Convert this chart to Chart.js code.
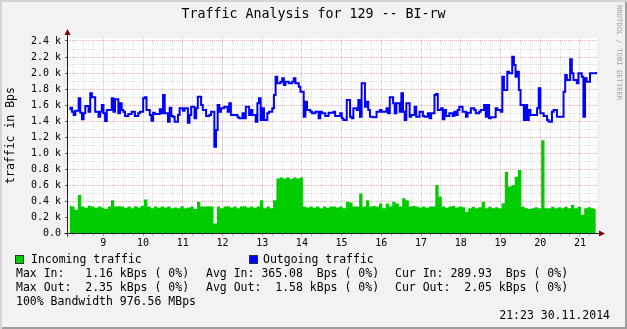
<!DOCTYPE html>
<html lang="en">
<head>
  <meta charset="UTF-8" />
  <title>Traffic Analysis for 129 -- BI-rw</title>
  <script src="https://cdn.jsdelivr.net/npm/chart.js"></script>
  <style>
    body {
      margin: 0;
      background: #f2f2f2;
    }
    .graph {
      position: relative;
      width: 627px;
      height: 329px;
      background: #f2f2f2;
      box-shadow: inset 2px 2px 0 #d4d4d4, inset -2px -2px 0 #9e9e9e;
      overflow: hidden;
      font-family: 'DejaVu Sans Mono', monospace;
      color: #000;
    }
    .graph canvas { position: absolute; left: 0; top: 0; }
    .t {
      position: absolute;
      white-space: pre;
      font-size: 11.5px;
      line-height: 14px;
    }
    .title {
      position: absolute;
      left: 0; top: 6px; width: 627px;
      text-align: center;
      font-size: 13.3px;
      line-height: 16px;
    }
    .mark {
      position: absolute;
      left: 615px; top: 5px;
      writing-mode: vertical-rl;
      font-size: 7.2px;
      line-height: 8px;
      color: #a4a4a4;
    }
    .swatch {
      position: absolute;
      width: 7px; height: 7px;
      border: 1px solid #303030;
    }
  </style>
</head>
<body>

<div class="graph">
  <canvas id="traffic" width="627" height="329"></canvas>
  <div class="title">Traffic Analysis for 129 -- BI-rw</div>
  <div class="mark">RRDTOOL / TOBI OETIKER</div>

  <!-- legend -->
  <span class="swatch" style="left:15px; top:255px; background:#00cc00"></span>
  <span class="t" style="left:31px; top:252px">Incoming traffic</span>
  <span class="swatch" style="left:249px; top:255px; background:#0000ff"></span>
  <span class="t" style="left:263px; top:252px">Outgoing traffic</span>

  <span class="t" style="left:16px; top:266px">Max In:   1.16 kBps ( 0%)</span>
  <span class="t" style="left:206px; top:266px">Avg In: 365.08  Bps ( 0%)</span>
  <span class="t" style="left:395px; top:266px">Cur In: 289.93  Bps ( 0%)</span>
  <span class="t" style="left:16px; top:280px">Max Out:  2.35 kBps ( 0%)</span>
  <span class="t" style="left:206px; top:280px">Avg Out:  1.58 kBps ( 0%)</span>
  <span class="t" style="left:395px; top:280px">Cur Out:  2.05 kBps ( 0%)</span>
  <span class="t" style="left:16px; top:294px">100% Bandwidth 976.56 MBps</span>
  <span class="t" style="right:17px; top:308px">21:23 30.11.2014</span>
</div>

<script>
  // time in decimal hours; first sample 08:09
  const startHour = 8.15;
  const inStep = 5 / 60;     // incoming read every 5 min
  const outStep = 2.5 / 60;  // outgoing read every 2.5 min
  const axisStart = 8.086;
  const axisEnd = 21.43;

  // Incoming traffic (Bps)
  const incoming = [
    340, 330, 290, 475, 330, 315, 340, 330, 315, 330,
    320, 300, 330, 410, 330, 335, 330, 315, 330, 310,
    335, 320, 340, 420, 330, 310, 330, 315, 330, 320,
    330, 310, 320, 310, 335, 310, 320, 330, 300, 390,
    330, 330, 335, 330, 120, 330, 310, 330, 335, 320,
    330, 310, 330, 335, 320, 330, 315, 330, 410, 310,
    330, 310, 410, 680, 695, 680, 695, 675, 695, 680,
    695, 330, 320, 330, 315, 330, 310, 330, 315, 330,
    330, 320, 330, 310, 390, 380, 330, 330, 495, 330,
    410, 330, 337, 330, 370, 308, 370, 330, 390, 370,
    330, 433, 410, 330, 337, 330, 320, 330, 317, 330,
    330, 600, 454, 330, 317, 330, 337, 320, 330,
    321, 267, 308, 329, 308, 321, 392, 308, 329, 308,
    321, 308, 371, 767, 580, 600, 704, 787, 329, 308,
    300, 308, 321, 308, 1160, 308, 308, 329, 308, 321,
    308, 329, 308, 354, 308, 329, 229, 308, 321, 308, 300
  ];

  // Outgoing traffic (Bps)
  const outgoing = [
    1546, 1567, 1517, 1475, 1529, 1529, 1683, 1504, 1421, 1496,
    1588, 1588, 1517, 1746, 1696, 1696, 1517, 1517, 1454, 1517,
    1600, 1496, 1400, 1538, 1538, 1538, 1683, 1517, 1671, 1671,
    1496, 1621, 1538, 1517, 1463, 1463, 1488, 1488, 1517, 1517,
    1463, 1463, 1496, 1517, 1517, 1683, 1696, 1538, 1538, 1475,
    1404, 1504, 1488, 1488, 1488, 1546, 1496, 1725, 1496, 1496,
    1392, 1567, 1463, 1454, 1392, 1392, 1475, 1558, 1558, 1529,
    1558, 1558, 1379, 1475, 1579, 1579, 1433, 1558, 1704, 1704,
    1600, 1538, 1538, 1463, 1463, 1475, 1517, 1517, 1079, 1288,
    1600, 1517, 1558, 1558, 1579, 1579, 1517, 1621, 1475, 1475,
    1475, 1475, 1446, 1433, 1433, 1496, 1433, 1579, 1579, 1475,
    1538, 1475, 1475, 1392, 1621, 1683, 1412, 1558, 1412, 1412,
    1496, 1517, 1517, 1558, 1725, 1954, 1871, 1871, 1892, 1933,
    1850, 1892, 1892, 1871, 1871, 1892, 1933, 1871, 1871, 1829,
    1767, 1767, 1454, 1642, 1538, 1538, 1517, 1496, 1496, 1517,
    1517, 1433, 1517, 1496, 1496, 1463, 1463, 1504, 1504, 1504,
    1517, 1463, 1463, 1463, 1496, 1433, 1412, 1412, 1663, 1663,
    1454, 1433, 1558, 1558, 1538, 1663, 1454, 1871, 1871, 1579,
    1642, 1538, 1454, 1454, 1446, 1446, 1517, 1517, 1538, 1517,
    1517, 1517, 1558, 1496, 1696, 1696, 1621, 1496, 1621, 1621,
    1517, 1746, 1517, 1412, 1621, 1621, 1454, 1475, 1475, 1579,
    1454, 1454, 1517, 1517, 1463, 1454, 1454, 1496, 1433, 1496,
    1496, 1725, 1738, 1538, 1538, 1558, 1421, 1538, 1463, 1463,
    1496, 1496, 1463, 1517, 1475, 1538, 1579, 1579,
    1517, 1517, 1454, 1504, 1504, 1558, 1558, 1537, 1496, 1496,
    1517, 1537, 1537, 1600, 1454, 1600, 1433, 1446, 1446, 1446,
    1558, 1537, 1537, 1517, 1954, 1787, 1787, 2017, 1996, 1996,
    2204, 2100, 1954, 2017, 1787, 1600, 1600, 1412, 1600, 1412,
    1537, 1475, 1475, 1475, 1475, 1558, 1808, 1496, 1496, 1463,
    1463, 1412, 1392, 1392, 1517, 1537, 1537, 1454, 1454, 1454,
    1454, 1767, 1975, 1912, 1912, 2171, 1996, 1912, 1912, 1871,
    1996, 1996, 1954, 1454, 1933, 1892, 1892, 1996, 1996, 1996,
    1996, 2000
  ];

  const hourLabels = ['9', '10', '11', '12', '13', '14', '15', '16', '17', '18', '19', '20', '21'];

  const toPoints = (arr, step) => arr.map((v, i) => ({ x: startHour + i * step, y: v }));

  const GRID = 'rgba(140,140,140,0.3)';
  const MGRID = 'rgba(130,30,30,0.3)';
  const FONT = 'DejaVu Sans Mono';

  const isHour = v => Math.abs(v - Math.round(v)) < 1e-6;

  // white plot canvas, axis stubs and the little red arrows
  const rrdFrame = {
    id: 'rrdFrame',
    beforeDraw(chart) {
      const { ctx, chartArea: a } = chart;
      ctx.save();
      ctx.fillStyle = '#ffffff';
      ctx.fillRect(a.left, a.top, a.right - a.left, a.bottom - a.top);
      ctx.restore();
    },
    afterDraw(chart) {
      const { ctx, chartArea: a } = chart;
      const x0 = Math.round(a.left) + 0.5;
      const y0 = Math.round(a.bottom) + 0.5;
      ctx.save();
      ctx.strokeStyle = '#202020';
      ctx.lineWidth = 1;
      ctx.beginPath();
      ctx.moveTo(x0, y0 + 3); ctx.lineTo(x0, a.top - 3);
      ctx.moveTo(x0 - 3, y0); ctx.lineTo(a.right + 2, y0);
      ctx.stroke();
      ctx.fillStyle = '#7f0000';
      ctx.beginPath();
      ctx.moveTo(x0 - 3, a.top - 3); ctx.lineTo(x0 + 3, a.top - 3); ctx.lineTo(x0, a.top - 9);
      ctx.closePath(); ctx.fill();
      ctx.beginPath();
      ctx.moveTo(a.right + 2, y0 - 3); ctx.lineTo(a.right + 2, y0 + 3); ctx.lineTo(a.right + 8, y0);
      ctx.closePath(); ctx.fill();
      ctx.restore();
    }
  };

  new Chart(document.getElementById('traffic'), {
    type: 'line',
    data: {
      datasets: [
        {
          label: 'Outgoing traffic',
          data: toPoints(outgoing, outStep),
          borderColor: '#0000ff',
          borderWidth: 2,
          stepped: 'middle',
          pointRadius: 0,
          fill: false,
          order: 0
        },
        {
          label: 'Incoming traffic',
          data: toPoints(incoming, inStep),
          borderWidth: 0,
          borderColor: 'rgba(0,0,0,0)',
          backgroundColor: '#00cc00',
          stepped: 'middle',
          pointRadius: 0,
          fill: 'origin',
          order: 1
        }
      ]
    },
    options: {
      responsive: false,
      animation: false,
      layout: { padding: { left: 0, top: 38, right: 30, bottom: 0 } },
      plugins: { legend: { display: false }, tooltip: { enabled: false } },
      scales: {
        x: {
          type: 'linear',
          min: axisStart,
          max: axisEnd,
          afterFit(scale) { scale.height = 96; },
          ticks: {
            stepSize: 0.25,
            maxTicksLimit: 1000,
            includeBounds: false,
            autoSkip: false,
            maxRotation: 0,
            padding: 1,
            color: '#000',
            font: { family: FONT, size: 10 },
            callback: v => isHour(v) ? (hourLabels.find(h => +h === Math.round(v)) || '') : ''
          },
          grid: {
            color: c => isHour(c.tick.value) ? MGRID : GRID,
            tickColor: c => isHour(c.tick.value) ? '#d08080' : '#b0b0b0',
            tickLength: 3,
            tickBorderDash: []
          },
          border: { color: '#202020', dash: [1, 1] }
        },
        y: {
          min: 0,
          max: 2437.5,
          afterFit(scale) { scale.width = 67; },
          ticks: {
            stepSize: 100,
            maxTicksLimit: 1000,
            includeBounds: false,
            autoSkip: false,
            padding: 4,
            color: '#000',
            font: { family: FONT, size: 10 },
            callback: v => Math.round(v) % 200 ? '' : (v === 0 ? '0.0' : (v / 1000).toFixed(1) + ' k')
          },
          grid: {
            color: c => Math.round(c.tick.value) % 200 ? GRID : MGRID,
            tickColor: c => Math.round(c.tick.value) % 200 ? 'rgba(0,0,0,0)' : '#606060',
            tickLength: 2,
            tickBorderDash: []
          },
          border: { color: '#202020', dash: [1, 1] },
          title: {
            display: true,
            text: 'traffic in Bps',
            color: '#000',
            font: { family: FONT, size: 11.5 },
            padding: { top: 4.5, bottom: 0 }
          }
        }
      }
    },
    plugins: [rrdFrame]
  });
</script>

</body>
</html>
